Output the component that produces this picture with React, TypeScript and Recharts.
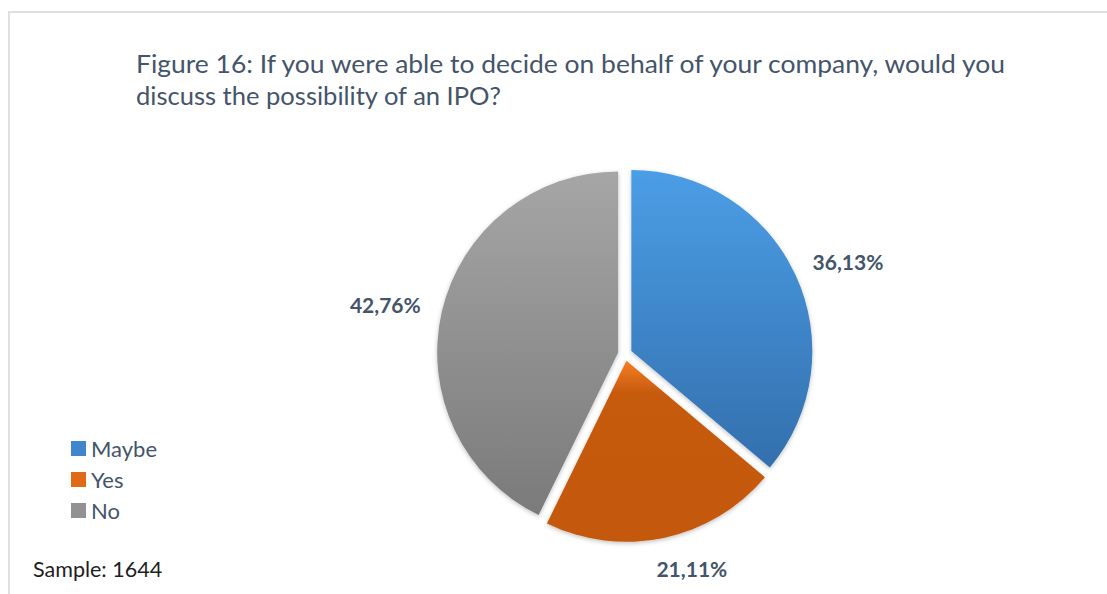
import { Cell, Pie, PieChart } from "recharts";

const categories = ["Maybe", "Yes", "No"];
const shares = [36.13, 21.11, 42.76];
const sampleSize = 1644;
const titleLines = [
  "Figure 16: If you were able to decide on behalf of your company, would you",
  "discuss the possibility of an IPO?",
];

const gradients = [
  { id: "gMaybe", stops: [["0%", "#4B9EE6"], ["100%", "#336FAD"]] },
  { id: "gYes", stops: [["0%", "#F57D22"], ["18%", "#C65A0E"], ["100%", "#C4590D"]] },
  { id: "gNo", stops: [["0%", "#A6A6A6"], ["100%", "#7A7A7A"]] },
];
const legendSwatch = ["#3F86CC", "#E06A17", "#929292"];

const data = categories.map((name, i) => ({ name, value: shares[i] }));
const total = shares.reduce((a, b) => a + b, 0);

const CX = 625;
const CY = 354;
const R = 181;
const EXPLODE = 7;
const SLATE = "#44546A";
const FONT = "Lato, 'Open Sans', sans-serif";

// mid angle of each slice (recharts degrees, counter-clockwise from 3 o'clock)
function midAngleOf(i: number) {
  const before = shares.slice(0, i).reduce((a, b) => a + b, 0);
  return 90 - ((before + shares[i] / 2) / total) * 360;
}

function renderLabel(own: number) {
  return (props: any) => {
    if (props.index !== own) return null;
    const rad = (-props.midAngle * Math.PI) / 180;
    const dx = Math.cos(rad);
    const dy = Math.sin(rad);
    const r = props.outerRadius + 22;
    // bottom labels sit a little to the right of the slice middle, as Excel places them
    const x = props.cx + dx * r + dx * 36 + (Math.abs(dx) < 0.4 ? 16 : 0);
    const y = props.cy + dy * r + dy * 9;
    return (
      <text
        x={x}
        y={y}
        textAnchor="middle"
        dominantBaseline="central"
        fill={SLATE}
        fontFamily={FONT}
        fontWeight={700}
        fontSize={21}
      >
        {shares[own].toFixed(2).replace(".", ",")}%
      </text>
    );
  };
}

export default function App() {
  return (
    <div style={{ position: "absolute", left: 0, top: 0, width: 1107, height: 594, overflow: "hidden", background: "#fff" }}>
      <div
        style={{
          position: "absolute",
          left: 8,
          top: 11,
          width: 1200,
          height: 700,
          border: "2px solid #DCE1E6",
        }}
      />
      <svg style={{ position: "absolute", left: 0, top: 0 }} width={1107} height={130}>
        {titleLines.map((line, i) => (
          <text
            key={i}
            x={136}
            y={73 + i * 32}
            fill={SLATE}
            fontFamily={FONT}
            fontSize={25}
            textLength={i === 0 ? 869 : 365}
            lengthAdjust="spacingAndGlyphs"
          >
            {line}
          </text>
        ))}
      </svg>
      <div style={{ position: "absolute", left: 0, top: 0 }}>
        <PieChart width={1107} height={594} margin={{ top: 0, right: 0, bottom: 0, left: 0 }}>
          <defs>
            {gradients.map((g) => (
              <linearGradient key={g.id} id={g.id} x1="0" y1="0" x2="0" y2="1">
                {g.stops.map(([o, c]) => (
                  <stop key={o} offset={o} stopColor={c} />
                ))}
              </linearGradient>
            ))}
            <filter id="sliceShadow" x="-10%" y="-10%" width="120%" height="120%">
              <feDropShadow dx="0" dy="1.5" stdDeviation="2" floodColor="#000" floodOpacity="0.25" />
            </filter>
          </defs>
          {data.map((_, own) => {
            const rad = (midAngleOf(own) * Math.PI) / 180;
            return (
              <Pie
                key={own}
                data={data}
                dataKey="value"
                nameKey="name"
                cx={CX + EXPLODE * Math.cos(rad)}
                cy={CY - EXPLODE * Math.sin(rad)}
                outerRadius={R}
                startAngle={90}
                endAngle={-270}
                stroke="none"
                labelLine={false}
                label={renderLabel(own)}
                isAnimationActive={false}
              >
                {data.map((d, i) => (
                  <Cell
                    key={d.name}
                    fill={i === own ? `url(#${gradients[i].id})` : "none"}
                    filter={i === own ? "url(#sliceShadow)" : undefined}
                  />
                ))}
              </Pie>
            );
          })}
        </PieChart>
      </div>
      <div style={{ position: "absolute", left: 71, top: 433, fontFamily: FONT, fontSize: 22, color: SLATE }}>
        {categories.map((c, i) => (
          <div key={c} style={{ display: "flex", alignItems: "center", height: 31 }}>
            <span style={{ width: 15, height: 15, background: legendSwatch[i], marginRight: 5, display: "inline-block" }} />
            {c}
          </div>
        ))}
      </div>
      <div style={{ position: "absolute", left: 33, top: 556, fontFamily: FONT, fontSize: 21.5, color: "#1E1E1E" }}>
        Sample: {sampleSize}
      </div>
    </div>
  );
}
